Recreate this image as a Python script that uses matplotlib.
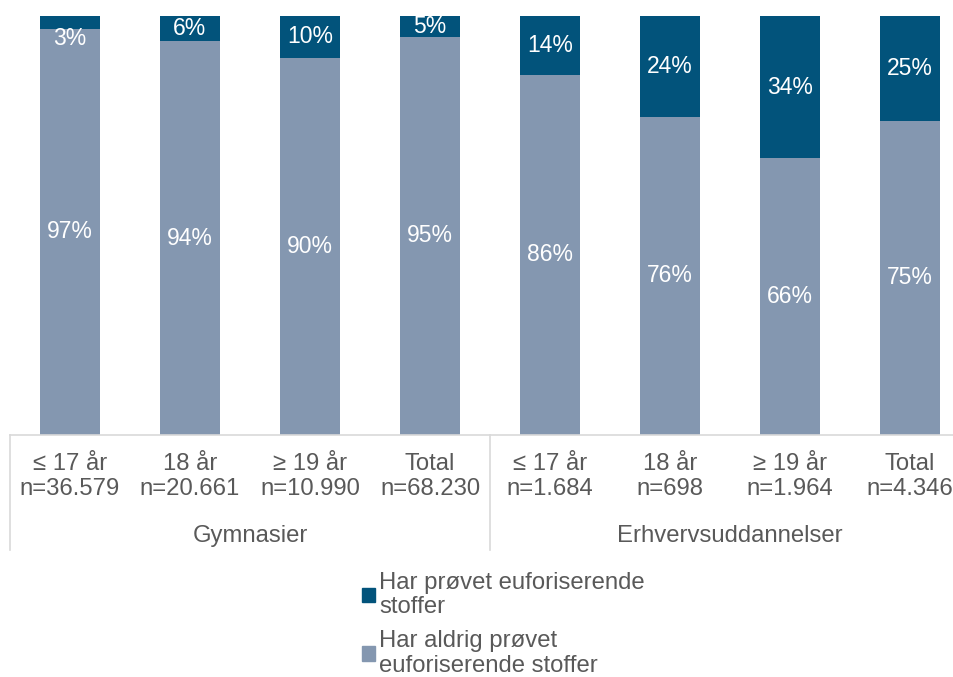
import numpy as np
import matplotlib.pyplot as plt
import matplotlib.transforms as mtransforms
from matplotlib.patches import Patch

plt.rcParams['font.family'] = ['Liberation Sans', 'DejaVu Sans']

# data
ages = ["≤ 17 år", "18 år", "≥ 19 år", "Total", "≤ 17 år", "18 år", "≥ 19 år", "Total"]
counts = ["n=36.579", "n=20.661", "n=10.990", "n=68.230", "n=1.684", "n=698", "n=1.964", "n=4.346"]
groups = ["Gymnasier", "Erhvervsuddannelser"]
tried = np.array([3, 6, 10, 5, 14, 24, 34, 25])
never = np.array([97, 94, 90, 95, 86, 76, 66, 75])
series_names = ["Har prøvet euforiserende\nstoffer", "Har aldrig prøvet\neuforiserende stoffer"]

dark = "#02537B"
grey = "#8497B0"
txt = "#595959"
line_col = "#D9D9D9"
fs = 16.5
fs2 = 17.2

fig = plt.figure(figsize=(9.54, 6.77), dpi=100)
W, H = 954, 677
ax = fig.add_axes([10 / W, (H - 435) / H, 960 / W, (435 - 16) / H])

x = np.arange(len(ages))
ax.bar(x, never, width=0.5, color=grey)
ax.bar(x, tried, width=0.5, bottom=never, color=dark)

for i in range(len(x)):
    ax.text(x[i], never[i] / 2, f"{never[i]}%", ha="center", va="center",
            color="white", fontsize=fs)
    ytop = never[i] + tried[i] / 2
    if tried[i] < 4:
        # too small segment: label sits just below it
        ytop = 94.7
    ax.text(x[i], ytop, f"{tried[i]}%", ha="center", va="center",
            color="white", fontsize=fs)

ax.set_xlim(-0.5, len(x) - 0.5)
ax.set_ylim(0, 100)
ax.set_yticks([])
for s in ["top", "right", "left"]:
    ax.spines[s].set_visible(False)
ax.spines["bottom"].set_color(line_col)
ax.spines["bottom"].set_linewidth(1.2)

ax.set_xticks(x)
ax.set_xticklabels([a + "\n" + c for a, c in zip(ages, counts)],
                   fontsize=fs2, color=txt, linespacing=1.2)
ax.tick_params(axis="x", length=0, pad=13)

# group separators and group labels
trans = mtransforms.blended_transform_factory(ax.transData, ax.transAxes)
yb = -(550 - 435) / (435 - 16)
for xs in [-0.5, 3.5, 7.5]:
    ax.plot([xs, xs], [0, yb], color=line_col, lw=1.2, transform=trans, clip_on=False)
for g, gx in zip(groups, [1.5, 5.5]):
    ax.text(gx, -(536 - 435) / (435 - 16), g, ha="center", va="center",
            fontsize=fs2, color=txt, transform=trans)

handles = [Patch(color=dark), Patch(color=grey)]
leg = fig.legend(handles, series_names, loc="upper left", bbox_to_anchor=(352 / W, 1 - 562 / H),
                 frameon=False, fontsize=fs2, labelcolor=txt, handlelength=0.55, handleheight=0.55,
                 handletextpad=0.2, labelspacing=0.5, borderaxespad=0)
for t in leg.get_texts():
    t.set_linespacing(1.15)

fig.savefig("out.png", dpi=100)
